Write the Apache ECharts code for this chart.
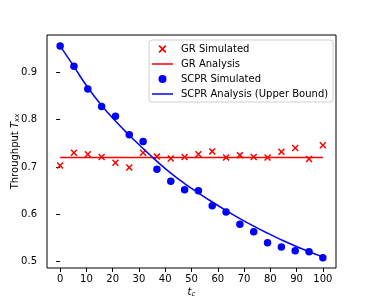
<!DOCTYPE html>
<html>
<head>
<meta charset="utf-8">
<script src="https://cdn.jsdelivr.net/npm/echarts@6/dist/echarts.min.js"></script>
<style>
html,body{margin:0;padding:0;background:#fff;}
#c{width:374px;height:302px;}
</style>
</head>
<body>
<div id="c"></div>
<script>
var tc = [0, 5.26, 10.53, 15.79, 21.05, 26.32, 31.58, 36.84, 42.11, 47.37, 52.63, 57.89, 63.16, 68.42, 73.68, 78.95, 84.21, 89.47, 94.74, 100];
var grSimulated = [0.703, 0.730, 0.727, 0.721, 0.709, 0.699, 0.730, 0.722, 0.718, 0.721, 0.727, 0.733, 0.720, 0.725, 0.721, 0.720, 0.732, 0.740, 0.717, 0.746];
var grAnalysisX = [0, 100];
var grAnalysis = [0.72, 0.72];
var scprSimulated = [0.956, 0.913, 0.865, 0.828, 0.807, 0.768, 0.754, 0.695, 0.670, 0.652, 0.650, 0.618, 0.605, 0.579, 0.563, 0.540, 0.531, 0.523, 0.521, 0.508];
var scprAnalysis = [0.956, 0.912, 0.868, 0.830, 0.797, 0.767, 0.739, 0.712, 0.687, 0.665, 0.645, 0.626, 0.608, 0.591, 0.575, 0.560, 0.546, 0.533, 0.521, 0.510];
var xTicks = [0, 10, 20, 30, 40, 50, 60, 70, 80, 90, 100];
var yTicks = [0.5, 0.6, 0.7, 0.8, 0.9];
var seriesNames = ['GR Simulated', 'GR Analysis', 'SCPR Simulated', 'SCPR Analysis (Upper Bound)'];

function pairs(xs, ys) { return xs.map(function (x, i) { return [x, ys[i]]; }); }

var crossPath = 'path://M0,1.5L1.5,0L5,3.5L8.5,0L10,1.5L6.5,5L10,8.5L8.5,10L5,6.5L1.5,10L0,8.5L3.5,5Z';
var lineIcon = 'path://M0,0H28V2H0Z';
var FONT = 'DejaVu Sans';

var chart = echarts.init(document.getElementById('c'), null, {renderer: 'canvas'});
chart.setOption({
  animation: false,
  backgroundColor: '#fff',
  textStyle: {fontFamily: FONT},
  grid: {left: 47, top: 35, right: 38, bottom: 34, containLabel: false, outerBoundsMode: 'none', show: true, borderColor: '#000', borderWidth: 1, backgroundColor: 'transparent'},
  xAxis: {
    type: 'value', min: -5, max: 105,
    axisLine: {show: false},
    splitLine: {show: false},
    axisTick: {show: true, length: 4, lineStyle: {color: '#000', width: 1}, customValues: xTicks},
    axisLabel: {color: '#000', fontSize: 10, margin: 6, fontFamily: FONT, customValues: xTicks},
    name: '{i|t}{s|c}',
    nameLocation: 'middle',
    nameGap: 19,
    nameMoveOverlap: false,
    nameTextStyle: {
      rich: {
        i: {fontSize: 10, fontStyle: 'italic', fontFamily: FONT, color: '#000'},
        s: {fontSize: 7, fontStyle: 'italic', fontFamily: FONT, color: '#000', verticalAlign: 'bottom', padding: [4, 0, 0, 0]}
      }
    }
  },
  yAxis: {
    type: 'value', min: 0.4865, max: 0.979,
    axisLine: {show: false},
    splitLine: {show: false},
    axisTick: {show: true, length: 4, lineStyle: {color: '#000', width: 1}, customValues: yTicks},
    axisLabel: {color: '#000', fontSize: 10, margin: 10, fontFamily: FONT, customValues: yTicks, formatter: function (v) { return v.toFixed(1); }},
    name: '{n|Throughput }{i|T}{s|xx}',
    nameLocation: 'middle',
    nameGap: 26,
    nameMoveOverlap: false,
    nameTextStyle: {
      rich: {
        n: {fontSize: 10, fontFamily: FONT, color: '#000'},
        i: {fontSize: 10, fontStyle: 'italic', fontFamily: FONT, color: '#000'},
        s: {fontSize: 7, fontStyle: 'italic', fontFamily: FONT, color: '#000', verticalAlign: 'bottom', padding: [4, 0, 0, 0]}
      }
    }
  },
  legend: {
    orient: 'vertical',
    left: 149, top: 40,
    padding: [4, 5, 3, 3],
    itemWidth: 21, itemHeight: 8, itemGap: 5,
    borderColor: '#d0d0d0', borderWidth: 1, borderRadius: 3,
    backgroundColor: 'rgba(255,255,255,0.8)',
    textStyle: {fontSize: 10, color: '#000', fontFamily: FONT, padding: [0, 0, 0, 3]},
    data: [
      {name: seriesNames[0], icon: crossPath},
      {name: seriesNames[1], icon: lineIcon},
      {name: seriesNames[2], icon: 'circle'},
      {name: seriesNames[3], icon: lineIcon}
    ]
  },
  series: [
    {
      name: seriesNames[0], type: 'scatter', data: pairs(tc, grSimulated),
      symbol: crossPath, symbolSize: 7, itemStyle: {color: '#ff0000', opacity: 1}, z: 2
    },
    {
      name: seriesNames[1], type: 'line', data: pairs(grAnalysisX, grAnalysis),
      symbol: 'none', lineStyle: {color: '#ff0000', width: 1.5}, itemStyle: {color: '#ff0000'}, z: 3
    },
    {
      name: seriesNames[2], type: 'scatter', data: pairs(tc, scprSimulated),
      symbol: 'circle', symbolSize: 7.5, itemStyle: {color: '#0000ff', opacity: 1}, z: 4
    },
    {
      name: seriesNames[3], type: 'line', data: pairs(tc, scprAnalysis), smooth: true,
      symbol: 'none', lineStyle: {color: '#0000ff', width: 1.5}, itemStyle: {color: '#0000ff'}, z: 5
    }
  ]
});
</script>
</body>
</html>
